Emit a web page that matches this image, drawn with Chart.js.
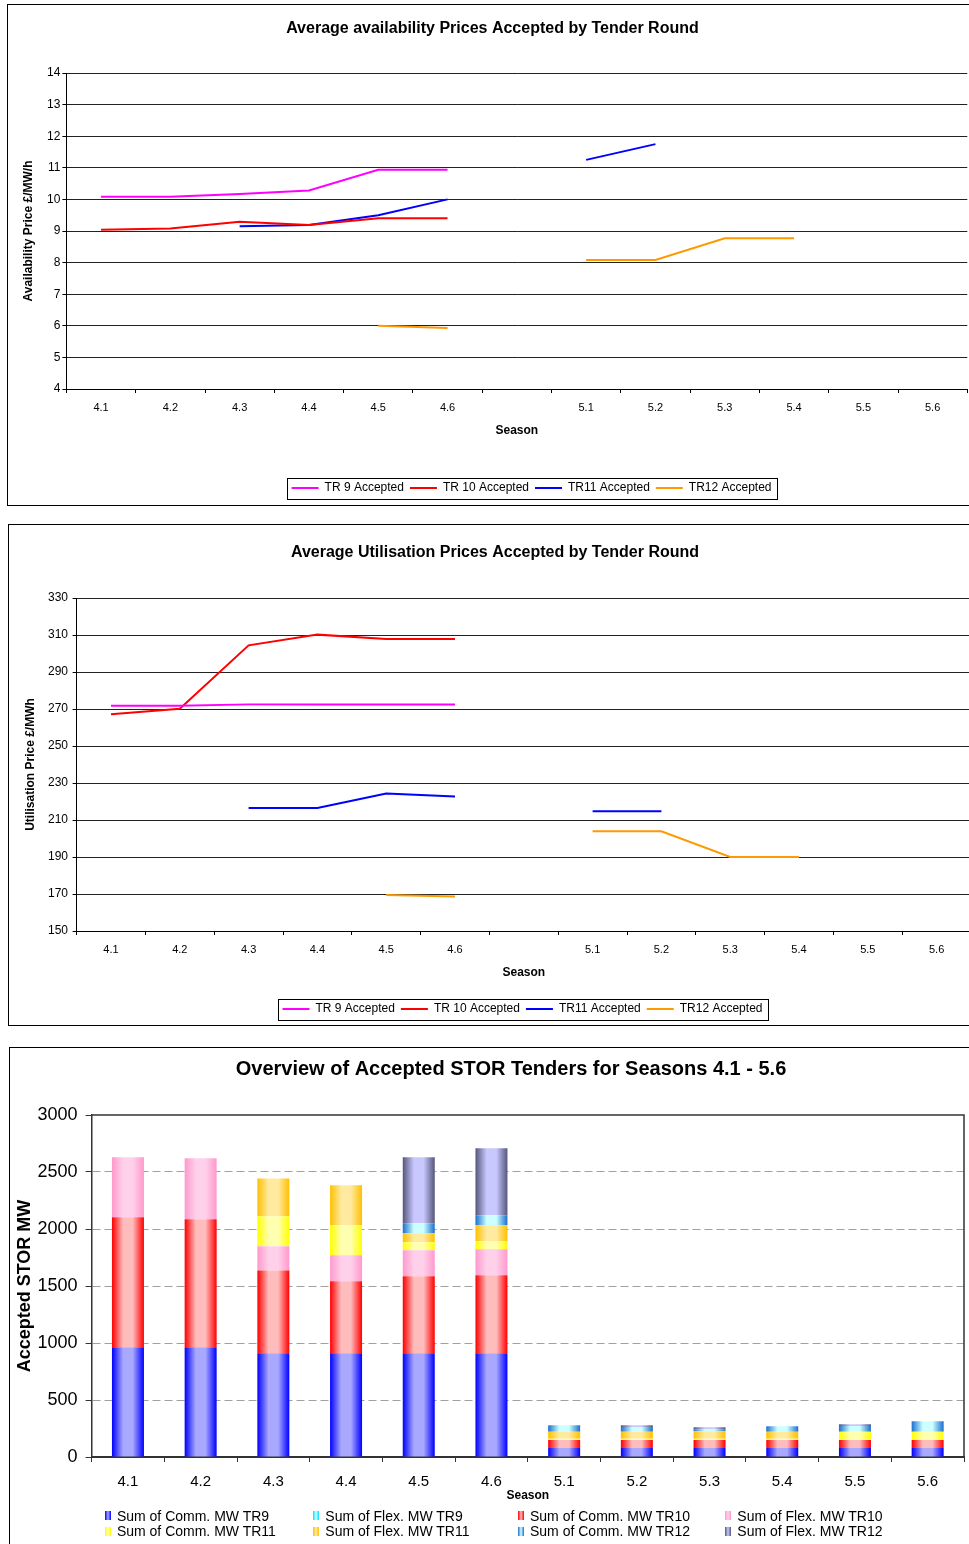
<!DOCTYPE html>
<html><head><meta charset="utf-8">
<script src="https://cdn.jsdelivr.net/npm/chart.js@4.4.1/dist/chart.umd.min.js"></script>
<style>
html,body{margin:0;padding:0;background:#fff;overflow:hidden;width:969px;height:1544px;position:relative;}
.frame{position:absolute;border:1px solid #000;box-sizing:border-box;}
canvas{position:absolute;}
.li{position:absolute;white-space:nowrap;font-family:'Liberation Sans',Arial,sans-serif;font-size:14px;line-height:14px;color:#000;}
.ic{position:absolute;width:6px;height:9px;}
</style></head><body>
<div class="frame" style="left:7px;top:4px;width:1000px;height:502px"></div>
<div class="frame" style="left:8px;top:524px;width:1000px;height:502px"></div>
<div class="frame" style="left:9px;top:1047px;width:1000px;height:520px"></div>
<canvas id="c1" width="975" height="501" style="left:7px;top:5px;width:975px;height:501px"></canvas>
<canvas id="c2" width="975" height="501" style="left:8px;top:525px;width:975px;height:501px"></canvas>
<canvas id="c3" width="975" height="497" style="left:9px;top:1047px;width:975px;height:497px"></canvas>
<div id="lg3"></div>
<script>
// ---------- data ----------
const seasonsLine = ['4.1','4.2','4.3','4.4','4.5','4.6','','5.1','5.2','5.3','5.4','5.5','5.6'];
const lineSeriesNames = ['TR 9 Accepted','TR 10 Accepted','TR11 Accepted','TR12 Accepted'];

const availTR9  = [10.08,10.08,10.17,10.28,10.94,10.94,null,null,null,null,null,null,null];
const availTR10 = [9.04,9.08,9.29,9.19,9.40,9.40,null,null,null,null,null,null,null];
const availTR11 = [null,null,9.15,9.19,9.50,10.00,null,11.25,11.75,null,null,null,null];
const availTR12 = [null,null,null,null,6.00,5.93,null,8.08,8.08,8.77,8.77,null,null];

const utilTR9  = [271.7,271.7,272.5,272.5,272.5,272.5,null,null,null,null,null,null,null];
const utilTR10 = [267.2,270.1,304.4,310.2,307.8,307.8,null,null,null,null,null,null,null];
const utilTR11 = [null,null,216.5,216.5,224.3,222.7,null,214.7,214.7,null,null,null,null];
const utilTR12 = [null,null,null,null,169.5,168.6,null,203.9,203.9,190.0,190.0,null,null];

const seasonsBar = ['4.1','4.2','4.3','4.4','4.5','4.6','5.1','5.2','5.3','5.4','5.5','5.6'];
const barSeriesNames = ['Sum of Comm. MW TR9','Sum of Flex. MW TR9','Sum of Comm. MW TR10','Sum of Flex. MW TR10',
                        'Sum of Comm. MW TR11','Sum of Flex. MW TR11','Sum of Comm. MW TR12','Sum of Flex. MW TR12'];
const commTR9  = [962,962,909,909,909,909,79,79,79,79,79,79];
const flexTR9  = [0,0,0,0,0,0,0,0,0,0,0,0];
const commTR10 = [1140,1123,728,632,676,685,70,70,70,70,70,70];
const flexTR10 = [527,535,211,228,228,228,0,0,0,0,0,0];
const commTR11 = [0,0,263,263,70,70,10,10,10,10,73,73];
const flexTR11 = [0,0,333,351,79,140,63,63,66,63,0,0];
const commTR12 = [0,0,0,0,88,88,56,41,18,47,50,91];
const flexTR12 = [0,0,0,0,579,588,0,15,17,0,15,0];

// ---------- styling ----------
Chart.defaults.font.family = "'Liberation Sans', Arial, sans-serif";
Chart.defaults.color = '#000';
const lineColors = ['#ff00ff','#ff0000','#0000ff','#ff9900'];
const barColors = [
  ['#0000ff','#a8a8ff'], ['#00e0ff','#ccffff'], ['#ff0000','#ffbcbc'], ['#ff99cc','#ffd0ea'],
  ['#ffff00','#ffffb0'], ['#ffc000','#ffeaa0'], ['#1a6fd0','#ccffff'], ['#55557a','#c8c8ff']
];
const BAR_FRACTION = 0.44;

const shiftPlugin = {
  id: 'shiftBoxes',
  afterLayout(chart, args, opts) {
    if (chart.titleBlock && opts.titleDx) { chart.titleBlock.left += opts.titleDx; chart.titleBlock.right += opts.titleDx; }
    if (chart.legend && opts.legendDx) { chart.legend.left += opts.legendDx; chart.legend.right += opts.legendDx; }
  }
};
const legendBox = {
  id: 'legendBox',
  afterDraw(chart) {
    const lg = chart.legend;
    if (!lg || !lg.options.display || !lg.legendHitBoxes || !lg.legendHitBoxes.length) return;
    let l = Infinity, r = -Infinity; const t = lg.legendHitBoxes[0].top;
    lg.legendHitBoxes.forEach(h => { l = Math.min(l, h.left); r = Math.max(r, h.left + h.width); });
    const ctx = chart.ctx;
    ctx.save(); ctx.strokeStyle = '#000'; ctx.lineWidth = 1;
    ctx.strokeRect(Math.round(l - 5) + 0.5, Math.round(t - 4) + 0.5, Math.round(r - l + 10), 21);
    ctx.restore();
  }
};

function makeLineChart(id, title, yTitle, series, yMin, yMax, yStep, L) {
  return new Chart(document.getElementById(id), {
    type: 'line',
    data: {
      labels: seasonsLine,
      datasets: series.map((d, i) => ({
        label: lineSeriesNames[i], data: d, borderColor: lineColors[i], backgroundColor: lineColors[i],
        borderWidth: 2, pointRadius: 0, pointHoverRadius: 0, tension: 0, spanGaps: false
      }))
    },
    options: {
      responsive: false, animation: false, devicePixelRatio: 1,
      layout: { padding: { left: 0, right: L.right, top: 0, bottom: L.bottom } },
      plugins: {
        title: { display: true, text: title, font: { size: 16, weight: 'bold' }, color: '#000',
                 padding: { top: L.titleTop, bottom: L.titleBottom } },
        legend: { position: 'bottom',
                  labels: { usePointStyle: true, pointStyle: 'line', pointStyleWidth: 27, font: { size: 12 }, color: '#000', padding: 6 } },
        tooltip: { enabled: false },
        shiftBoxes: { titleDx: L.titleDx, legendDx: L.legendDx }
      },
      scales: {
        x: {
          type: 'category', offset: true,
          grid: { offset: true, drawOnChartArea: false, drawTicks: true, tickLength: 4, tickColor: '#000' },
          border: { color: '#000', width: 1 },
          ticks: { font: { size: 11 }, color: '#000', padding: L.xPad, maxRotation: 0, autoSkip: false },
          title: { display: true, text: 'Season', font: { size: 12, weight: 'bold' }, color: '#000', padding: { top: 0, bottom: L.xTitleBottom } },
          afterFit(s) { s.height = L.xHeight; }
        },
        y: {
          min: yMin, max: yMax,
          ticks: { stepSize: yStep, font: { size: 12 }, color: '#000', padding: L.yPad },
          grid: { color: '#222', lineWidth: 1, tickLength: 4, tickColor: '#000' },
          border: { color: '#000', width: 1 },
          title: { display: true, text: yTitle, font: { size: 12, weight: 'bold' }, color: '#000', padding: { top: L.yTitleTop, bottom: 0 } },
          afterFit(s) { s.width = L.yWidth; }
        }
      }
    },
    plugins: [shiftPlugin, legendBox]
  });
}

makeLineChart('c1', 'Average availability Prices Accepted by Tender Round', 'Availability Price £/MW/h',
  [availTR9, availTR10, availTR11, availTR12], 4, 14, 1,
  { right: 14.7, bottom: 2, titleTop: 14.4, titleBottom: 34.4, titleDx: 5.3, legendDx: 44.4,
    xPad: 8.5, xTitleBottom: 37.8, xHeight: 87, yPad: 2, yTitleTop: 14.8, yWidth: 59.4 });

makeLineChart('c2', 'Average Utilisation Prices Accepted by Tender Round', 'Utilisation Price £/MWh',
  [utilTR9, utilTR10, utilTR11, utilTR12], 150, 330, 20,
  { right: 12, bottom: 1, titleTop: 18.4, titleBottom: 35.4, titleDx: 5.5, legendDx: 33,
    xPad: 8.5, xTitleBottom: 16.8, xHeight: 66, yPad: 4.6, yTitleTop: 15.8, yWidth: 68.6 });

// ---------- bar chart ----------
function grad(edge, light) {
  return function (c) {
    const chart = c.chart, xs = chart.scales && chart.scales.x;
    if (!xs || c.type !== 'data' || !xs.width) return edge;
    const hw = xs.width / seasonsBar.length * BAR_FRACTION / 2;
    const cx = xs.getPixelForValue(c.dataIndex);
    const g = chart.ctx.createLinearGradient(cx - hw, 0, cx + hw, 0);
    g.addColorStop(0, edge); g.addColorStop(0.35, light); g.addColorStop(0.65, light); g.addColorStop(1, edge);
    return g;
  };
}
const frame3 = {
  id: 'frame3',
  afterDraw(chart) {
    const { left, right, top, bottom } = chart.chartArea; const ctx = chart.ctx;
    ctx.save(); ctx.strokeStyle = '#333'; ctx.lineWidth = 1.5;
    ctx.beginPath(); ctx.moveTo(left, top); ctx.lineTo(right, top); ctx.lineTo(right, bottom); ctx.stroke();
    ctx.restore();
  }
};
const barData = [commTR9, flexTR9, commTR10, flexTR10, commTR11, flexTR11, commTR12, flexTR12];
new Chart(document.getElementById('c3'), {
  type: 'bar',
  data: {
    labels: seasonsBar,
    datasets: barData.map((d, i) => ({
      label: barSeriesNames[i], data: d, stack: 's',
      backgroundColor: grad(barColors[i][0], barColors[i][1]), borderWidth: 0,
      categoryPercentage: 1, barPercentage: BAR_FRACTION
    }))
  },
  options: {
    responsive: false, animation: false, devicePixelRatio: 1,
    layout: { padding: { left: 0, right: 20, top: 0, bottom: 37 } },
    plugins: {
      title: { display: true, text: 'Overview of Accepted STOR Tenders for Seasons 4.1 - 5.6', font: { size: 20, weight: 'bold' }, color: '#000', padding: { top: 10, bottom: 34 } },
      legend: { display: false }, tooltip: { enabled: false },
      shiftBoxes: { titleDx: 24.5 }
    },
    scales: {
      x: {
        stacked: true,
        grid: { offset: true, drawOnChartArea: false, tickLength: 5, tickColor: '#333' },
        border: { color: '#333', width: 2 },
        ticks: { font: { size: 15 }, color: '#000', padding: 10.5, autoSkip: false, maxRotation: 0 },
        title: { display: true, text: 'Season', font: { size: 12, weight: 'bold' }, color: '#000', padding: { top: 0, bottom: 3.8 } },
        afterFit(s) { s.height = 50; }
      },
      y: {
        stacked: true, min: 0, max: 3000,
        ticks: { stepSize: 500, font: { size: 18 }, color: '#000', padding: 8, callback: (v) => String(v) },
        grid: { color: (c) => (c.tick && (c.tick.value === 0 || c.tick.value === 3000)) ? 'rgba(0,0,0,0)' : '#a0a0a0',
                lineWidth: 1, tickLength: 6, tickColor: '#333', tickBorderDash: [] },
        border: { color: '#333', width: 1.5, dash: [8, 4] },
        title: { display: true, text: 'Accepted STOR MW', font: { size: 18, weight: 'bold' }, color: '#000', padding: { top: 5.2, bottom: 0 } },
        afterFit(s) { s.width = 82.6; }
      }
    }
  },
  plugins: [shiftPlugin, frame3]
});

// HTML legend for the bar chart (grid of 2 rows x 4 columns)
const lgCols = [104.6, 313, 517.7, 725];
const lgRows = [1515.8, 1531];
const lg = document.getElementById('lg3');
barSeriesNames.forEach((name, i) => {
  const col = i % 4, row = Math.floor(i / 4);
  const ic = document.createElement('div'); ic.className = 'ic';
  ic.style.left = lgCols[col] + 'px'; ic.style.top = (lgRows[row] - 4.5) + 'px';
  ic.style.background = `linear-gradient(to right, ${barColors[i][0]} 0%, ${barColors[i][1]} 50%, ${barColors[i][0]} 100%)`;
  const tx = document.createElement('div'); tx.className = 'li';
  tx.style.left = (lgCols[col] + 12.3) + 'px'; tx.style.top = (lgRows[row] - 7) + 'px';
  tx.textContent = name;
  lg.appendChild(ic); lg.appendChild(tx);
});
</script>
</body></html>
